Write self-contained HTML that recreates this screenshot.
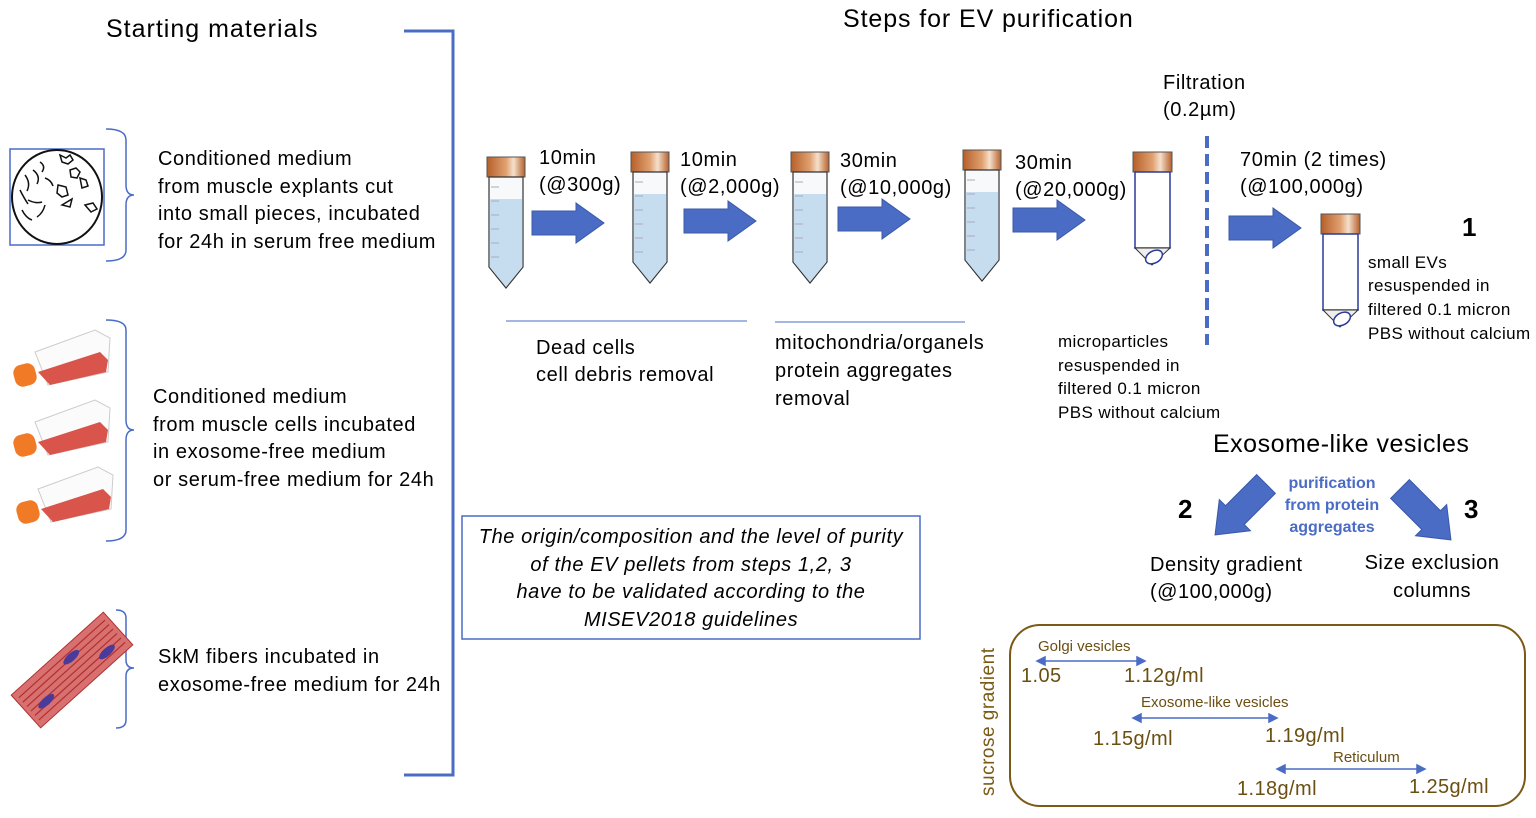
<!DOCTYPE html>
<html><head><meta charset="utf-8"><style>
body{margin:0;background:#fff}
svg text{font-family:"Liberation Sans",sans-serif}
</style></head><body>
<svg width="1536" height="813" viewBox="0 0 1536 813" xmlns="http://www.w3.org/2000/svg">
<defs>
<linearGradient id="cap" x1="0" x2="1">
<stop offset="0" stop-color="#b5602a"/><stop offset="0.5" stop-color="#e0a070"/><stop offset="0.7" stop-color="#f5e0cc"/><stop offset="1" stop-color="#b5602a"/>
</linearGradient>
<g id="tube">
<rect x="0" y="0" width="38" height="20" fill="url(#cap)" stroke="#555" stroke-width="1"/>
<path d="M2 20 V110 L19 131 L36 110 V20 Z" fill="#f7f9fb" stroke="#333" stroke-width="1.2"/>
<path d="M2.6 42 V110 L19 130 L35.4 110 V42 Z" fill="#c6dcef"/>
<g stroke="#aab" stroke-width="1"><line x1="4" y1="30" x2="12" y2="30"/><line x1="4" y1="44" x2="12" y2="44"/><line x1="4" y1="58" x2="12" y2="58"/><line x1="4" y1="72" x2="12" y2="72"/><line x1="4" y1="86" x2="12" y2="86"/><line x1="4" y1="100" x2="12" y2="100"/></g>
</g>
<g id="otube">
<rect x="0" y="0" width="39" height="20" fill="url(#cap)" stroke="#555"/>
<path d="M2 20 V96 H37 V20 Z" fill="#fff" stroke="#2a3b99" stroke-width="1.5"/>
<path d="M2 96 L19 113 L37 96 Z" fill="#eee" stroke="#333"/>
<ellipse cx="21" cy="105" rx="9" ry="6" transform="rotate(-30 21 105)" fill="#fff" stroke="#2a3b99" stroke-width="1.5"/>
</g>
<path id="barrow" d="M0 8 H44 V0 L72 20 L44 40 V32 H0 Z" fill="#4a6cc5" stroke="#3a5aa8" stroke-width="1"/>
</defs>

<text x="106" y="37" font-size="25" letter-spacing="1">Starting materials</text>
<text x="843" y="27" font-size="25" letter-spacing="0.9">Steps for EV purification</text>

<path d="M404 31 H453 V775 H404" fill="none" stroke="#4a6cc5" stroke-width="3"/>

<g fill="none" stroke="#4a6cc5" stroke-width="1.5">
<path d="M106 129 Q126 129 126 140 V185 Q126 195 134 195 Q126 195 126 205 V250 Q126 261 106 261"/>
<path d="M106 320 Q126 320 126 330 V420 Q126 430 134 430 Q126 430 126 440 V530 Q126 541 106 541"/>
<path d="M116 610 Q126 610 126 618 V660 Q126 668 134 668 Q126 668 126 676 V720 Q126 728 116 728"/>
</g>

<rect x="10" y="149" width="94" height="96" fill="#fff" stroke="#4a6cc5" stroke-width="1.5"/>
<ellipse cx="57" cy="197" rx="45" ry="47" fill="#fff" stroke="#111" stroke-width="2"/>
<g fill="none" stroke="#111" stroke-width="1.5">
<path d="M25 175 q6 8 2 16"/><path d="M33 170 q8 6 4 14"/><path d="M40 162 q6 4 2 10"/><path d="M20 190 q4 8 8 14"/><path d="M28 200 q8 4 14 2"/><path d="M45 205 q-2 8 -8 12"/><path d="M22 210 q4 8 10 10"/><path d="M45 178 q6 2 8 8"/>
<path d="M60 155 l6 3 l4 -3 l3 5 l-5 4 l-6 -2 z"/><path d="M70 170 l6 -2 l4 4 l-3 6 l-6 -1 z"/><path d="M80 178 l6 2 l2 6 l-6 2 z"/><path d="M58 185 l8 2 l2 8 l-6 2 l-5 -4 z"/><path d="M62 205 l10 -6 l-2 8 z"/><path d="M85 205 l8 -2 l4 6 l-6 3 z"/>
</g>

<g id="flask">
<path d="M35 352 L95 330 L110 338 L108 372 L48 385 Z" fill="#fbfbfb" stroke="#ccc"/>
<path d="M38 372 L100 352 L108 360 L106 372 L50 385 Z" fill="#d9544a"/>
<rect x="14" y="364" width="22" height="22" rx="8" fill="#f07a26" transform="rotate(-15 25 375)"/>
</g>
<use href="#flask" transform="translate(0,70)"/>
<use href="#flask" transform="translate(3,137)"/>

<g transform="rotate(-42 72 670)">
<rect x="10" y="648" width="124" height="44" fill="#d97070" stroke="#b03030"/>
<g stroke="#b03030" stroke-width="1.2">
<line x1="14" y1="655" x2="130" y2="655"/><line x1="14" y1="661" x2="130" y2="661"/><line x1="14" y1="667" x2="130" y2="667"/><line x1="14" y1="673" x2="130" y2="673"/><line x1="14" y1="679" x2="130" y2="679"/><line x1="14" y1="685" x2="130" y2="685"/>
</g>
<ellipse cx="32" cy="676" rx="10" ry="4" fill="#4a3a9a"/><ellipse cx="80" cy="660" rx="10" ry="4" fill="#4a3a9a"/><ellipse cx="110" cy="680" rx="10" ry="4" fill="#4a3a9a"/>
</g>

<g font-size="20" fill="#000" letter-spacing="0.6">
<text x="158" y="165">Conditioned  medium</text>
<text x="158" y="193">from muscle explants cut</text>
<text x="158" y="220">into small pieces, incubated</text>
<text x="158" y="248">for 24h in serum free medium</text>
<text x="153" y="403">Conditioned  medium</text>
<text x="153" y="431">from muscle cells incubated</text>
<text x="153" y="458">in exosome-free medium</text>
<text x="153" y="486">or serum-free medium for 24h</text>
<text x="158" y="663">SkM fibers incubated in</text>
<text x="158" y="691">exosome-free medium for 24h</text>
</g>

<use href="#tube" transform="translate(487,157)"/>
<use href="#tube" transform="translate(631,152)"/>
<use href="#tube" transform="translate(791,152)"/>
<use href="#tube" transform="translate(963,150)"/>
<use href="#otube" transform="translate(1133,152)"/>
<use href="#otube" transform="translate(1321,214)"/>

<use href="#barrow" transform="translate(532,203)"/>
<use href="#barrow" transform="translate(684,201)"/>
<use href="#barrow" transform="translate(838,199)"/>
<use href="#barrow" transform="translate(1013,200)"/>
<use href="#barrow" transform="translate(1229,208)"/>

<line x1="1207" y1="136" x2="1207" y2="345" stroke="#4a6cc5" stroke-width="4" stroke-dasharray="12,6"/>

<g font-size="20" letter-spacing="0.6">
<text x="539" y="164">10min</text><text x="539" y="191">(@300g)</text>
<text x="680" y="166">10min</text><text x="680" y="193">(@2,000g)</text>
<text x="840" y="167">30min</text><text x="840" y="194">(@10,000g)</text>
<text x="1015" y="169">30min</text><text x="1015" y="196">(@20,000g)</text>
<text x="1163" y="89">Filtration</text><text x="1163" y="116">(0.2µm)</text>
<text x="1240" y="166">70min (2 times)</text><text x="1240" y="193">(@100,000g)</text>
<text x="536" y="354">Dead cells</text><text x="536" y="381">cell debris removal</text>
<text x="775" y="349">mitochondria/organels</text><text x="775" y="377">protein aggregates</text><text x="775" y="405">removal</text>
</g>
<text x="1462" y="236" font-size="26" font-weight="bold">1</text>
<g font-size="17" letter-spacing="0.4">
<text x="1368" y="268">small EVs</text><text x="1368" y="291">resuspended in</text><text x="1368" y="315">filtered 0.1 micron</text><text x="1368" y="339">PBS without calcium</text>
<text x="1058" y="347">microparticles</text><text x="1058" y="371">resuspended in</text><text x="1058" y="394">filtered 0.1 micron</text><text x="1058" y="418">PBS without calcium</text>
</g>
<line x1="506" y1="321" x2="747" y2="321" stroke="#4a6cc5" stroke-width="1"/>
<line x1="775" y1="322" x2="965" y2="322" stroke="#4a6cc5" stroke-width="1"/>

<text x="1213" y="452" font-size="25" letter-spacing="0.5">Exosome-like vesicles</text>
<g font-size="16" font-weight="bold" fill="#4a6cc5" text-anchor="middle">
<text x="1332" y="488">purification</text><text x="1332" y="510">from protein</text><text x="1332" y="532">aggregates</text>
</g>
<text x="1178" y="518" font-size="26" font-weight="bold">2</text>
<text x="1464" y="518" font-size="26" font-weight="bold">3</text>
<use href="#barrow" transform="translate(1266,484) rotate(135) scale(1,1.1) translate(0,-20)"/>
<use href="#barrow" transform="translate(1400,489) rotate(45) scale(1,1.1) translate(0,-20)"/>
<g font-size="20" letter-spacing="0.5">
<text x="1150" y="571">Density gradient</text><text x="1150" y="598">(@100,000g)</text>
<text x="1432" y="569" text-anchor="middle">Size exclusion</text><text x="1432" y="597" text-anchor="middle">columns</text>
</g>

<rect x="462" y="516" width="458" height="123" fill="#fff" stroke="#4a6cc5" stroke-width="1.5"/>
<g font-size="20" font-style="italic" text-anchor="middle" letter-spacing="0.6">
<text x="691" y="543">The origin/composition and the level of purity</text>
<text x="691" y="571">of the EV pellets from steps 1,2, 3</text>
<text x="691" y="598">have to be validated according to the</text>
<text x="691" y="626">MISEV2018 guidelines</text>
</g>

<rect x="1010" y="625" width="515" height="181" rx="30" fill="#fff" stroke="#7a5a14" stroke-width="2"/>
<text transform="translate(994,796) rotate(-90)" font-size="19" fill="#7a5a14" letter-spacing="0.5">sucrose gradient</text>
<g fill="#6b4f12">
<text x="1038" y="651" font-size="15">Golgi vesicles</text>
<text x="1141" y="707" font-size="15">Exosome-like vesicles</text>
<text x="1333" y="762" font-size="15">Reticulum</text>
<g font-size="20" letter-spacing="0.4">
<text x="1021" y="682">1.05</text><text x="1124" y="682">1.12g/ml</text>
<text x="1093" y="745">1.15g/ml</text><text x="1265" y="742">1.19g/ml</text>
<text x="1237" y="795">1.18g/ml</text><text x="1409" y="793">1.25g/ml</text>
</g>
</g>
<g stroke="#4a6cc5" stroke-width="1.5" fill="#4a6cc5">
<line x1="1042" y1="661" x2="1140" y2="661"/><path d="M1037 661 l8 -4 v8z"/><path d="M1145 661 l-8 -4 v8z"/>
<line x1="1138" y1="718" x2="1272" y2="718"/><path d="M1133 718 l8 -4 v8z"/><path d="M1277 718 l-8 -4 v8z"/>
<line x1="1282" y1="769" x2="1420" y2="769"/><path d="M1277 769 l8 -4 v8z"/><path d="M1425 769 l-8 -4 v8z"/>
</g>
</svg>
</body></html>
